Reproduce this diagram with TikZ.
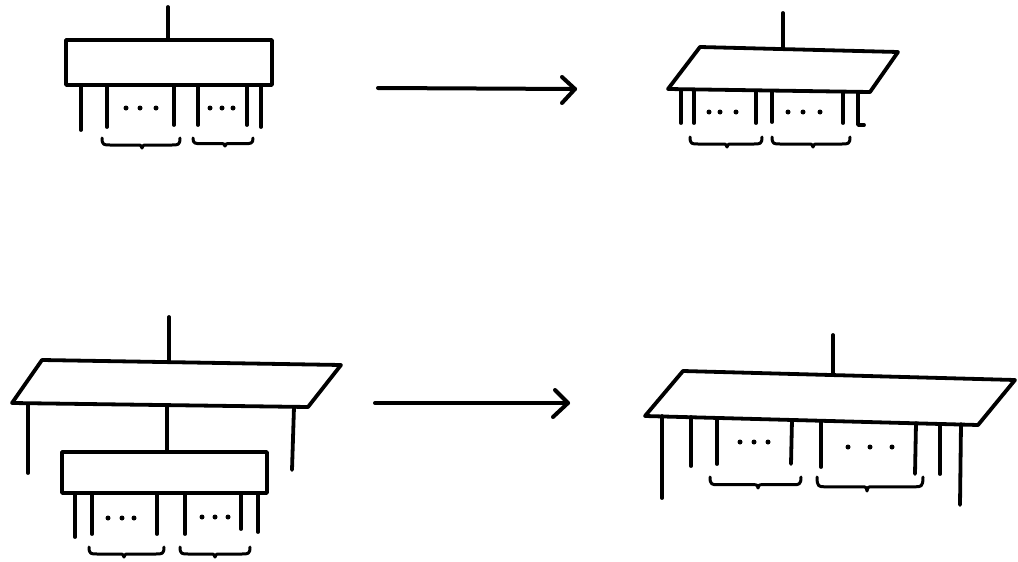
\documentclass[tikz,border=0pt]{standalone}
\usetikzlibrary{calc}
\tikzset{
  ink/.style={line width=3.8pt, line cap=round, line join=round},
  leg/.style={ink},
  brc/.style={line width=3pt, line cap=round, line join=round},
  arr/.style={line width=4pt, line cap=round, line join=round},
}
\newcommand{\mybrace}[5]{% x1 x2 xtip ytop depth
  \draw[brc] (#1,#4) .. controls (#1,{#4+#5*0.7}) and ({#1+2},{#4+#5*0.7}) .. ({#1+8},{#4+#5*0.7})
    -- ({#3-5},{#4+#5*0.7}) .. controls ({#3-1},{#4+#5*0.7}) .. (#3,{#4+#5})
    .. controls ({#3+1},{#4+#5*0.7}) .. ({#3+5},{#4+#5*0.7})
    -- ({#2-8},{#4+#5*0.7}) .. controls ({#2-2},{#4+#5*0.7}) and (#2,{#4+#5*0.7}) .. (#2,#4);}
\newcommand{\mydots}[4]{% x1 x2 x3 y
  \fill (#1,#4) circle (2.5pt); \fill (#2,#4) circle (2.5pt); \fill (#3,#4) circle (2.5pt);}
\begin{document}
\begin{tikzpicture}[x=1pt,y=-1pt]
\useasboundingbox (0,0) rectangle (1018,562);

% ---------- top left ----------
\coordinate (tlA) at (66,40);
\coordinate (tlB) at (272,85);
\draw[ink] (168,7) -- (168,40);
\draw[ink] (tlA) rectangle (tlB);
\draw[leg] (81,85) -- (81,130);
\draw[leg] (107,85) -- (107,127);
\draw[leg] (174,85) -- (174,125);
\draw[leg] (198,85) -- (198,125);
\draw[leg] (247,85) -- (247,125);
\draw[leg] (261,85) -- (261,127);
\mydots{126}{140}{156}{108}
\mydots{210}{222}{233}{108}
\mybrace{102}{180}{142}{138}{10}
\mybrace{193}{253}{225}{138}{8}

% ---------- top arrow ----------
\coordinate (a1s) at (378,88);
\coordinate (a1e) at (575,89);
\draw[arr] (a1s) -- (a1e);
\draw[arr] (562,77) -- (a1e) -- (562,103);

% ---------- top right ----------
\draw[ink] (783,13) -- (783,49);
\draw[ink] (700,47) -- (898,52) -- (870,92) -- (668,89) -- cycle;
\draw[leg] (681,90) -- (681,123);
\draw[leg] (694,90) -- (694,123);
\draw[leg] (756,91) -- (756,123);
\draw[leg] (772,91) -- (772,122);
\draw[leg] (843,92) -- (843,123);
\draw[leg] (858,92) -- (858,125) -- (864,125);
\mydots{709}{720}{736}{112}
\mydots{788}{803}{820}{112}
\mybrace{690}{762}{727}{137}{10}
\mybrace{772}{850}{813}{137}{10}

% ---------- bottom left ----------
\draw[ink] (169,317) -- (169,362);
\draw[ink] (42,360) -- (341,365) -- (308,407) -- (12,403) -- cycle;
\draw[leg] (28,404) -- (28,473);
\draw[leg] (294,407) -- (292,470);
\draw[ink] (167,406) -- (167,452);
\draw[ink] (62,452) rectangle (267,493);
\draw[leg] (75,493) -- (75,537);
\draw[leg] (92,493) -- (92,534);
\draw[leg] (157,493) -- (157,534);
\draw[leg] (185,493) -- (185,534);
\draw[leg] (241,493) -- (241,529);
\draw[leg] (258,493) -- (258,532);
\mydots{108}{122}{134}{518}
\mydots{202}{215}{228}{517}
\mybrace{89}{164}{124}{547}{10}
\mybrace{180}{250}{215}{547}{10}

% ---------- bottom arrow ----------
\coordinate (a2s) at (375,403);
\coordinate (a2e) at (568,403);
\draw[arr] (a2s) -- (a2e);
\draw[arr] (555,390) -- (a2e) -- (553,417);

% ---------- bottom right ----------
\draw[ink] (833,335) -- (833,375);
\draw[ink] (683,371) -- (1015,380) -- (978,425) -- (645,416) -- cycle;
\draw[leg] (662,416) -- (662,498);
\draw[leg] (691,417) -- (691,466);
\draw[leg] (717,418) -- (717,464);
\draw[leg] (792,420) -- (791,464);
\draw[leg] (821,421) -- (821,467);
\draw[leg] (916,423) -- (915,474);
\draw[leg] (940,424) -- (940,474);
\draw[leg] (961,424) -- (960,505);
\mydots{740}{754}{768}{442}
\mydots{848}{870}{892}{447}
\mybrace{710}{801}{758}{477}{11}
\mybrace{817}{923}{867}{477}{14}
\end{tikzpicture}
\end{document}
